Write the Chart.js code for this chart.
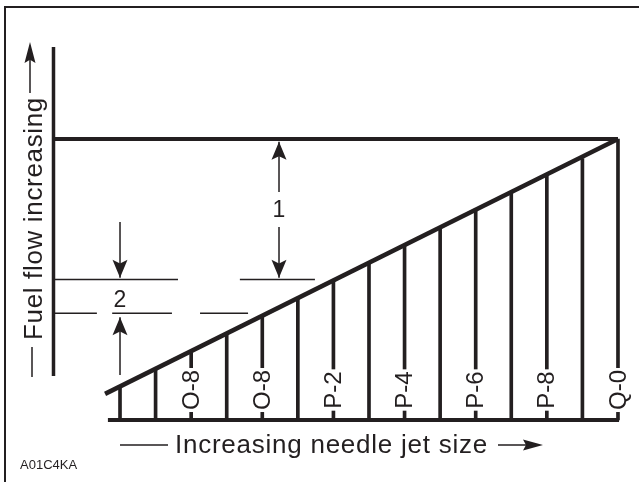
<!DOCTYPE html>
<html>
<head>
<meta charset="utf-8">
<script src="https://cdn.jsdelivr.net/npm/chart.js@4/dist/chart.umd.min.js"></script>
<style>
    html, body { margin: 0; padding: 0; background: #fff; }
    #wrap { width: 639px; height: 482px; position: relative; }
</style>
</head>
<body>
<div id="wrap"><canvas id="jetChart"></canvas></div>
<script>
// needle jet steps (x = step index) and fuel flow reached at each step (0 = base, 100 = max)
const jetSteps = [0, 1, 2, 3, 4, 5, 6, 7, 8, 9, 10, 11, 12, 13, 14];
const jetLabels = ['', '', 'O-8', '', 'O-8', '', 'P-2', '', 'P-4', '', 'P-6', '', 'P-8', '', 'Q-0'];
const flowAtJet = [12, 18, 24, 31, 37, 43, 50, 56, 62, 68, 75, 81, 87, 93, 100];

// sloping flow line and the maximum flow line
const slopeX = [-0.42, 14];
const slopeY = [9.3, 100];
const maxFlowX = [-1.85, 14];
const maxFlowY = [100, 100];

// axis lines
const flowAxisX = [-1.87, -1.87];
const flowAxisY = [15.7, 132.7];
const jetAxisX = [-0.34, 14.03];
const jetAxisY = [0, 0];

// dimension 1 / 2 reference lines (segments split by gaps)
const upperRefSegs = [[-1.85, 1.63], [3.37, 5.48]];
const upperRefY = 50;
const lowerRefSegs = [[-1.83, -0.65], [-0.22, 1.46], [2.25, 3.6]];
const lowerRefY = 38;

// dimension arrows: shaft x, shaft pieces [from, to] (arrow tip at "to")
const dimOneX = 4.47;
const dimOneShafts = [[81.1, 99], [68.7, 50.6]];
const dimTwoX = 0;
const dimTwoShafts = [[70.5, 50.6], [16, 36.6]];
const dimNotes = [{ text: '1', x: 4.47, y: 74.7 }, { text: '2', x: 0, y: 42.7 }];

const ink = '#231f20';
const font = '"Liberation Sans", Arial, Helvetica, sans-serif';

const toPoints = (xs, ys) => xs.map((x, i) => ({ x: x, y: ys[i] }));
const segPoints = (segs, y) => {
    const pts = [];
    segs.forEach((s, i) => {
        if (i > 0) pts.push({ x: (segs[i - 1][1] + s[0]) / 2, y: null });
        pts.push({ x: s[0], y: y }, { x: s[1], y: y });
    });
    return pts;
};
const shaftPoints = (x, shafts) => {
    const pts = [];
    shafts.forEach((s, i) => {
        if (i > 0) pts.push({ x: x, y: null });
        pts.push({ x: x, y: s[0] }, { x: x, y: s[1] });
    });
    return pts;
};

function arrowHead(ctx, x, y, angle, len, half, notch) {
    ctx.save();
    ctx.translate(x, y);
    ctx.rotate(angle);
    ctx.beginPath();
    ctx.moveTo(0, 0);
    ctx.lineTo(-len, -half);
    ctx.lineTo(-len * (1 - notch), 0);
    ctx.lineTo(-len, half);
    ctx.closePath();
    ctx.fill();
    ctx.restore();
}

// title text stretched to a given length with letter spacing
function spacedText(ctx, text, x, y, length) {
    ctx.letterSpacing = '0px';
    const w = ctx.measureText(text).width;
    ctx.letterSpacing = ((length - w) / text.length).toFixed(2) + 'px';
    ctx.fillText(text, x, y);
    ctx.letterSpacing = '0px';
}

const diagramPlugin = {
    id: 'diagram',
    afterDatasetsDraw(chart) {
        const ctx = chart.ctx;
        const xs = chart.scales.x;
        const ys = chart.scales.y;
        ctx.save();
        ctx.fillStyle = ink;
        ctx.strokeStyle = ink;

        // frame
        ctx.lineWidth = 2;
        ctx.beginPath();
        ctx.moveTo(5, 482); ctx.lineTo(5, 7); ctx.lineTo(639, 7);
        ctx.stroke();

        // jet size labels, with white gap in the bar
        ctx.font = '24px ' + font;
        ctx.textAlign = 'center';
        ctx.textBaseline = 'middle';
        jetSteps.forEach((s, i) => {
            const t = jetLabels[i];
            if (!t) return;
            const px = xs.getPixelForValue(s);
            const py = ys.getPixelForValue(0) - 30;
            const w = ctx.measureText(t).width;
            ctx.save();
            ctx.translate(px, py);
            ctx.rotate(-Math.PI / 2);
            ctx.fillStyle = '#fff';
            ctx.fillRect(-w / 2 - 2, -3, w + 4, 6);
            ctx.fillStyle = ink;
            ctx.fillText(t, 0, 1);
            ctx.restore();
        });

        // dimension arrow heads
        const tipUp = (x, y) => arrowHead(ctx, xs.getPixelForValue(x), ys.getPixelForValue(y), -Math.PI / 2, 18, 7.5, 0.2);
        const tipDown = (x, y) => arrowHead(ctx, xs.getPixelForValue(x), ys.getPixelForValue(y), Math.PI / 2, 18, 7.5, 0.2);
        tipUp(dimOneX, dimOneShafts[0][1]);
        tipDown(dimOneX, dimOneShafts[1][1]);
        tipDown(dimTwoX, dimTwoShafts[0][1]);
        tipUp(dimTwoX, dimTwoShafts[1][1]);

        // dimension numbers
        ctx.font = '23px ' + font;
        dimNotes.forEach(n => {
            ctx.fillText(n.text, xs.getPixelForValue(n.x), ys.getPixelForValue(n.y) + 1);
        });

        // x title
        ctx.font = '26px ' + font;
        ctx.textAlign = 'left';
        ctx.textBaseline = 'alphabetic';
        spacedText(ctx, 'Increasing needle jet size', 175, 453, 313);
        ctx.lineWidth = 1.5;
        ctx.beginPath();
        ctx.moveTo(120, 445); ctx.lineTo(168, 445);
        ctx.moveTo(498, 445); ctx.lineTo(530, 445);
        ctx.stroke();
        arrowHead(ctx, 543, 445, 0, 20, 5.5, 0.15);

        // y title
        ctx.save();
        ctx.translate(42, 340);
        ctx.rotate(-Math.PI / 2);
        spacedText(ctx, 'Fuel flow increasing', 0, 0, 243);
        ctx.restore();
        ctx.beginPath();
        ctx.moveTo(32, 377); ctx.lineTo(32, 347);
        ctx.moveTo(30, 93); ctx.lineTo(30, 58);
        ctx.stroke();
        arrowHead(ctx, 30, 42, -Math.PI / 2, 21, 5.5, 0.15);

        // figure code
        ctx.font = '13px ' + font;
        ctx.fillText('A01C4KA', 20, 469);
        ctx.restore();
    }
};

const lineSet = (data, width) => ({
    type: 'line',
    data: data,
    borderColor: ink,
    borderWidth: width,
    pointRadius: 0,
    spanGaps: false,
    clip: false,
    order: 0
});

new Chart(document.getElementById('jetChart'), {
    type: 'bar',
    data: {
        datasets: [
            {
                type: 'bar',
                data: jetSteps.map((s, i) => ({ x: s, y: [0, flowAtJet[i]] })),
                backgroundColor: ink,
                barThickness: 3,
                grouped: false,
                order: 2
            },
            lineSet(toPoints(slopeX, slopeY), 4.5),
            lineSet(toPoints(maxFlowX, maxFlowY), 4),
            lineSet(toPoints(flowAxisX, flowAxisY), 3.5),
            lineSet(toPoints(jetAxisX, jetAxisY), 4),
            lineSet(segPoints(upperRefSegs, upperRefY), 1.5),
            lineSet(segPoints(lowerRefSegs, lowerRefY), 1.5),
            lineSet(shaftPoints(dimOneX, dimOneShafts), 1.5),
            lineSet(shaftPoints(dimTwoX, dimTwoShafts), 1.5)
        ]
    },
    options: {
        responsive: true,
        maintainAspectRatio: false,
        animation: false,
        layout: { padding: 0 },
        plugins: {
            legend: { display: false },
            tooltip: { enabled: false },
            title: { display: false }
        },
        scales: {
            x: { type: 'linear', display: false, offset: false, bounds: 'ticks', min: -3.374, max: 14.591 },
            y: { type: 'linear', display: false, min: -22.06, max: 149.47 }
        }
    },
    plugins: [diagramPlugin]
});
</script>
</body>
</html>
